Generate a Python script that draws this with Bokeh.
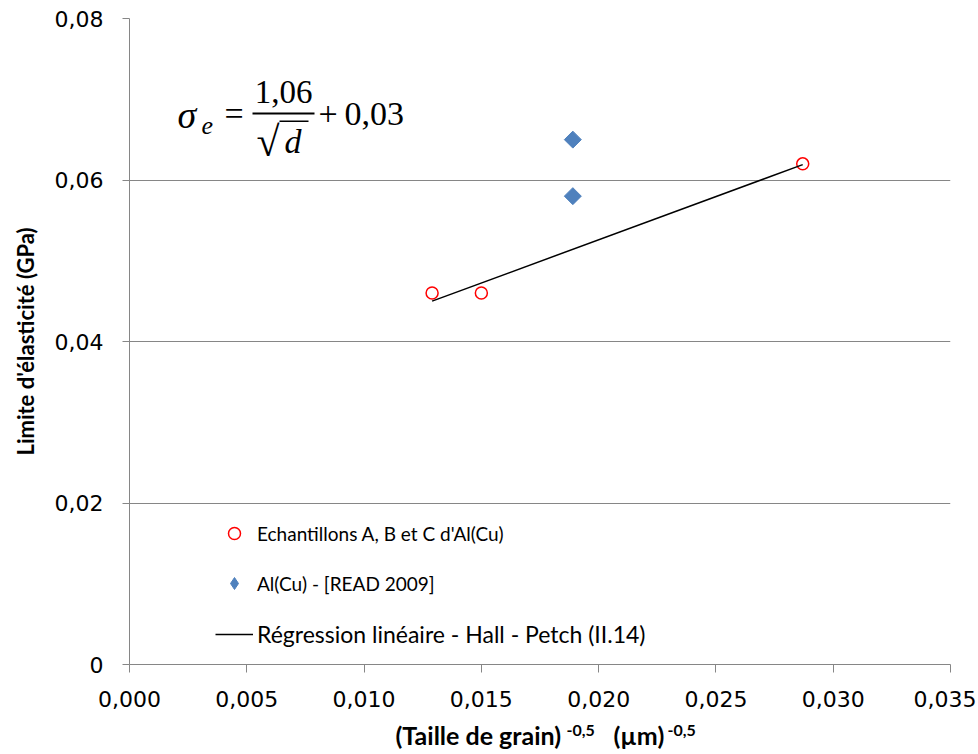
from math import pi
from bokeh.plotting import figure
from bokeh.layouts import column
from bokeh.models import Range1d, FixedTicker, Legend, LegendItem, Label, BoxAnnotation
from bokeh.embed import file_html
from bokeh.resources import INLINE

# ---------------- data ----------------
samples_x = [0.0129, 0.0150, 0.0287]          # Echantillons A, B et C d'Al(Cu)
samples_y = [0.046, 0.046, 0.062]
read_x = [0.0189, 0.0189]                      # Al(Cu) - [READ 2009]
read_y = [0.065, 0.058]
fit_x = [0.0129, 0.0287]                       # Régression linéaire - Hall - Petch
fit_y = [0.0450, 0.0619]

x_ticks = [0.0, 0.005, 0.010, 0.015, 0.020, 0.025, 0.030, 0.035]
x_tick_labels = ["0,000", "0,005", "0,010", "0,015", "0,020", "0,025", "0,030", "0,035"]
y_ticks = [0.0, 0.02, 0.04, 0.06, 0.08]
y_tick_labels = ["0", "0,02", "0,04", "0,06", "0,08"]

legend_labels = ["Echantillons A, B et C d'Al(Cu)",
                 "Al(Cu) - [READ 2009]",
                 "Régression linéaire - Hall - Petch (II.14)"]
y_title = "Limite d'élasticité (GPa)"
x_title_parts = ["(Taille de grain)", "-0,5", "(µm)", "-0,5"]

GRID = "#868686"
W, H1, H2 = 976, 716, 36
FL, FR, FT, FB = 129, 950, 18, 664   # frame edges in page pixels

p = figure(width=W, height=H1,
           x_range=Range1d(0, 0.035), y_range=Range1d(0, 0.08),
           output_backend="svg", toolbar_location=None,
           min_border_left=FL, min_border_right=W - FR,
           min_border_top=FT, min_border_bottom=H1 - FB)
p.outline_line_color = None
p.background_fill_color = "white"
p.border_fill_color = "white"

# grid
p.xgrid.grid_line_color = None
p.ygrid.grid_line_color = GRID
p.ygrid.grid_line_width = 1
p.ygrid.ticker = FixedTicker(ticks=y_ticks)

# axes
p.xaxis.ticker = FixedTicker(ticks=x_ticks)
p.yaxis.ticker = FixedTicker(ticks=y_ticks)
p.xaxis.major_label_overrides = dict(zip(x_ticks, x_tick_labels))
p.yaxis.major_label_overrides = dict(zip(y_ticks, y_tick_labels))
for ax in (p.xaxis[0], p.yaxis[0]):
    ax.axis_line_color = GRID
    ax.major_tick_line_color = GRID
    ax.minor_tick_line_color = None
    ax.major_tick_in = 0
    ax.major_label_text_font = "DejaVu Sans"
    ax.major_label_text_font_size = "22px"
    ax.major_label_text_color = "black"
p.xaxis.major_tick_out = 8
p.yaxis.major_tick_out = 7
p.xaxis.major_label_standoff = 18
p.yaxis.major_label_standoff = 19

p.yaxis.axis_label = y_title
p.yaxis.axis_label_text_font = "Lato"
p.yaxis.axis_label_text_font_style = "bold"
p.yaxis.axis_label_text_font_size = "22px"
p.yaxis.axis_label_text_color = "black"
p.yaxis.axis_label_standoff = 13

# series
r_samples = p.scatter(samples_x, samples_y, marker="circle", size=12,
                      fill_color=None, line_color="#FF0000", line_width=1.5)
r_read = p.scatter(read_x, read_y, marker="square", angle=pi / 4, size=12,
                   fill_color="#4F81BD", line_color="#4F81BD")
r_fit = p.line(fit_x, fit_y, line_color="black", line_width=1.5)
# legend proxy for the rotated squares (legend glyphs ignore the angle)
r_read_key = p.scatter(read_x, read_y, marker="diamond", size=12,
                       fill_color="#4F81BD", line_color="#4F81BD", visible=False)

# legends (three, to allow different sizes per entry)
def make_legend(label, renderer, loc, gw, gh, standoff, fsize):
    return Legend(items=[LegendItem(label=label, renderers=[renderer])],
                  location=loc, glyph_width=gw, glyph_height=gh,
                  label_standoff=standoff, padding=0, margin=0, spacing=0,
                  border_line_color=None, background_fill_alpha=0,
                  label_text_font="Lato", label_text_font_size=fsize,
                  label_text_color="black", click_policy="none")

p.add_layout(make_legend(legend_labels[0], r_samples, (219 - FL, FB - 548), 30, 30, 8, "19px"))
p.add_layout(make_legend(legend_labels[1], r_read_key, (219 - FL, FB - 598), 30, 30, 8, "19px"))
p.add_layout(make_legend(legend_labels[2], r_fit, (215 - FL, FB - 649), 38, 30, 4, "23px"))

# text helper (page pixel coords of the baseline -> frame screen coords)
def txt(fig, text, ix, iy, size, font="Liberation Serif", style="normal", align="left",
        left=FL, bottom=FB):
    px = float(size.replace("px", ""))
    fig.add_layout(Label(x=ix - left, y=bottom - iy + round(0.32 * px),
                         x_units="screen", y_units="screen",
                         text=text, text_font=font, text_font_size=size,
                         text_font_style=style, text_align=align,
                         text_baseline="alphabetic", text_color="black"))

def bar(il, ir, it, ib):
    p.add_layout(BoxAnnotation(left=il - FL, right=ir - FL, top=FB - it, bottom=FB - ib,
                               left_units="screen", right_units="screen",
                               top_units="screen", bottom_units="screen",
                               fill_color="black", fill_alpha=1, line_color=None))

# equation  sigma_e = 1,06 / sqrt(d) + 0,03
txt(p, "σ", 177, 126, "38px", style="italic")
txt(p, "e", 201, 133, "26px", style="italic")
txt(p, "=", 224, 124, "34px")
txt(p, "1,06", 283, 102, "33px", align="center")
bar(252, 314, 112, 114)
txt(p, "√", 256, 154, "42px")
bar(279, 308, 120, 121.5)
txt(p, "d", 284, 152, "34px", style="italic")
txt(p, "+", 318, 124, "34px")
txt(p, "0,03", 344, 124, "34px")

# strip under the chart carrying the x axis title (with superscripts)
p2 = figure(width=W, height=H2, x_range=Range1d(0, W), y_range=Range1d(0, H2),
            output_backend="svg", toolbar_location=None,
            min_border_left=0, min_border_right=0, min_border_top=0, min_border_bottom=0)
p2.axis.visible = False
p2.grid.visible = False
p2.outline_line_color = None
p2.background_fill_color = "white"
p2.border_fill_color = "white"
B2 = H1 + H2   # page y of the strip's bottom edge
# the column aligns the strip's frame with the chart frame (left edge at FL)
txt(p2, x_title_parts[0], 395, 742, "25px", font="Lato", style="bold", left=FL, bottom=B2)
txt(p2, x_title_parts[1], 566, 735, "16px", font="Lato", style="bold", left=FL, bottom=B2)
txt(p2, x_title_parts[2], 613, 742, "25px", font="Lato", style="bold", left=FL, bottom=B2)
txt(p2, x_title_parts[3], 667, 735, "16px", font="Lato", style="bold", left=FL, bottom=B2)

layout = column(p, p2, spacing=0)
open("out.html", "w").write(file_html(layout, INLINE))
